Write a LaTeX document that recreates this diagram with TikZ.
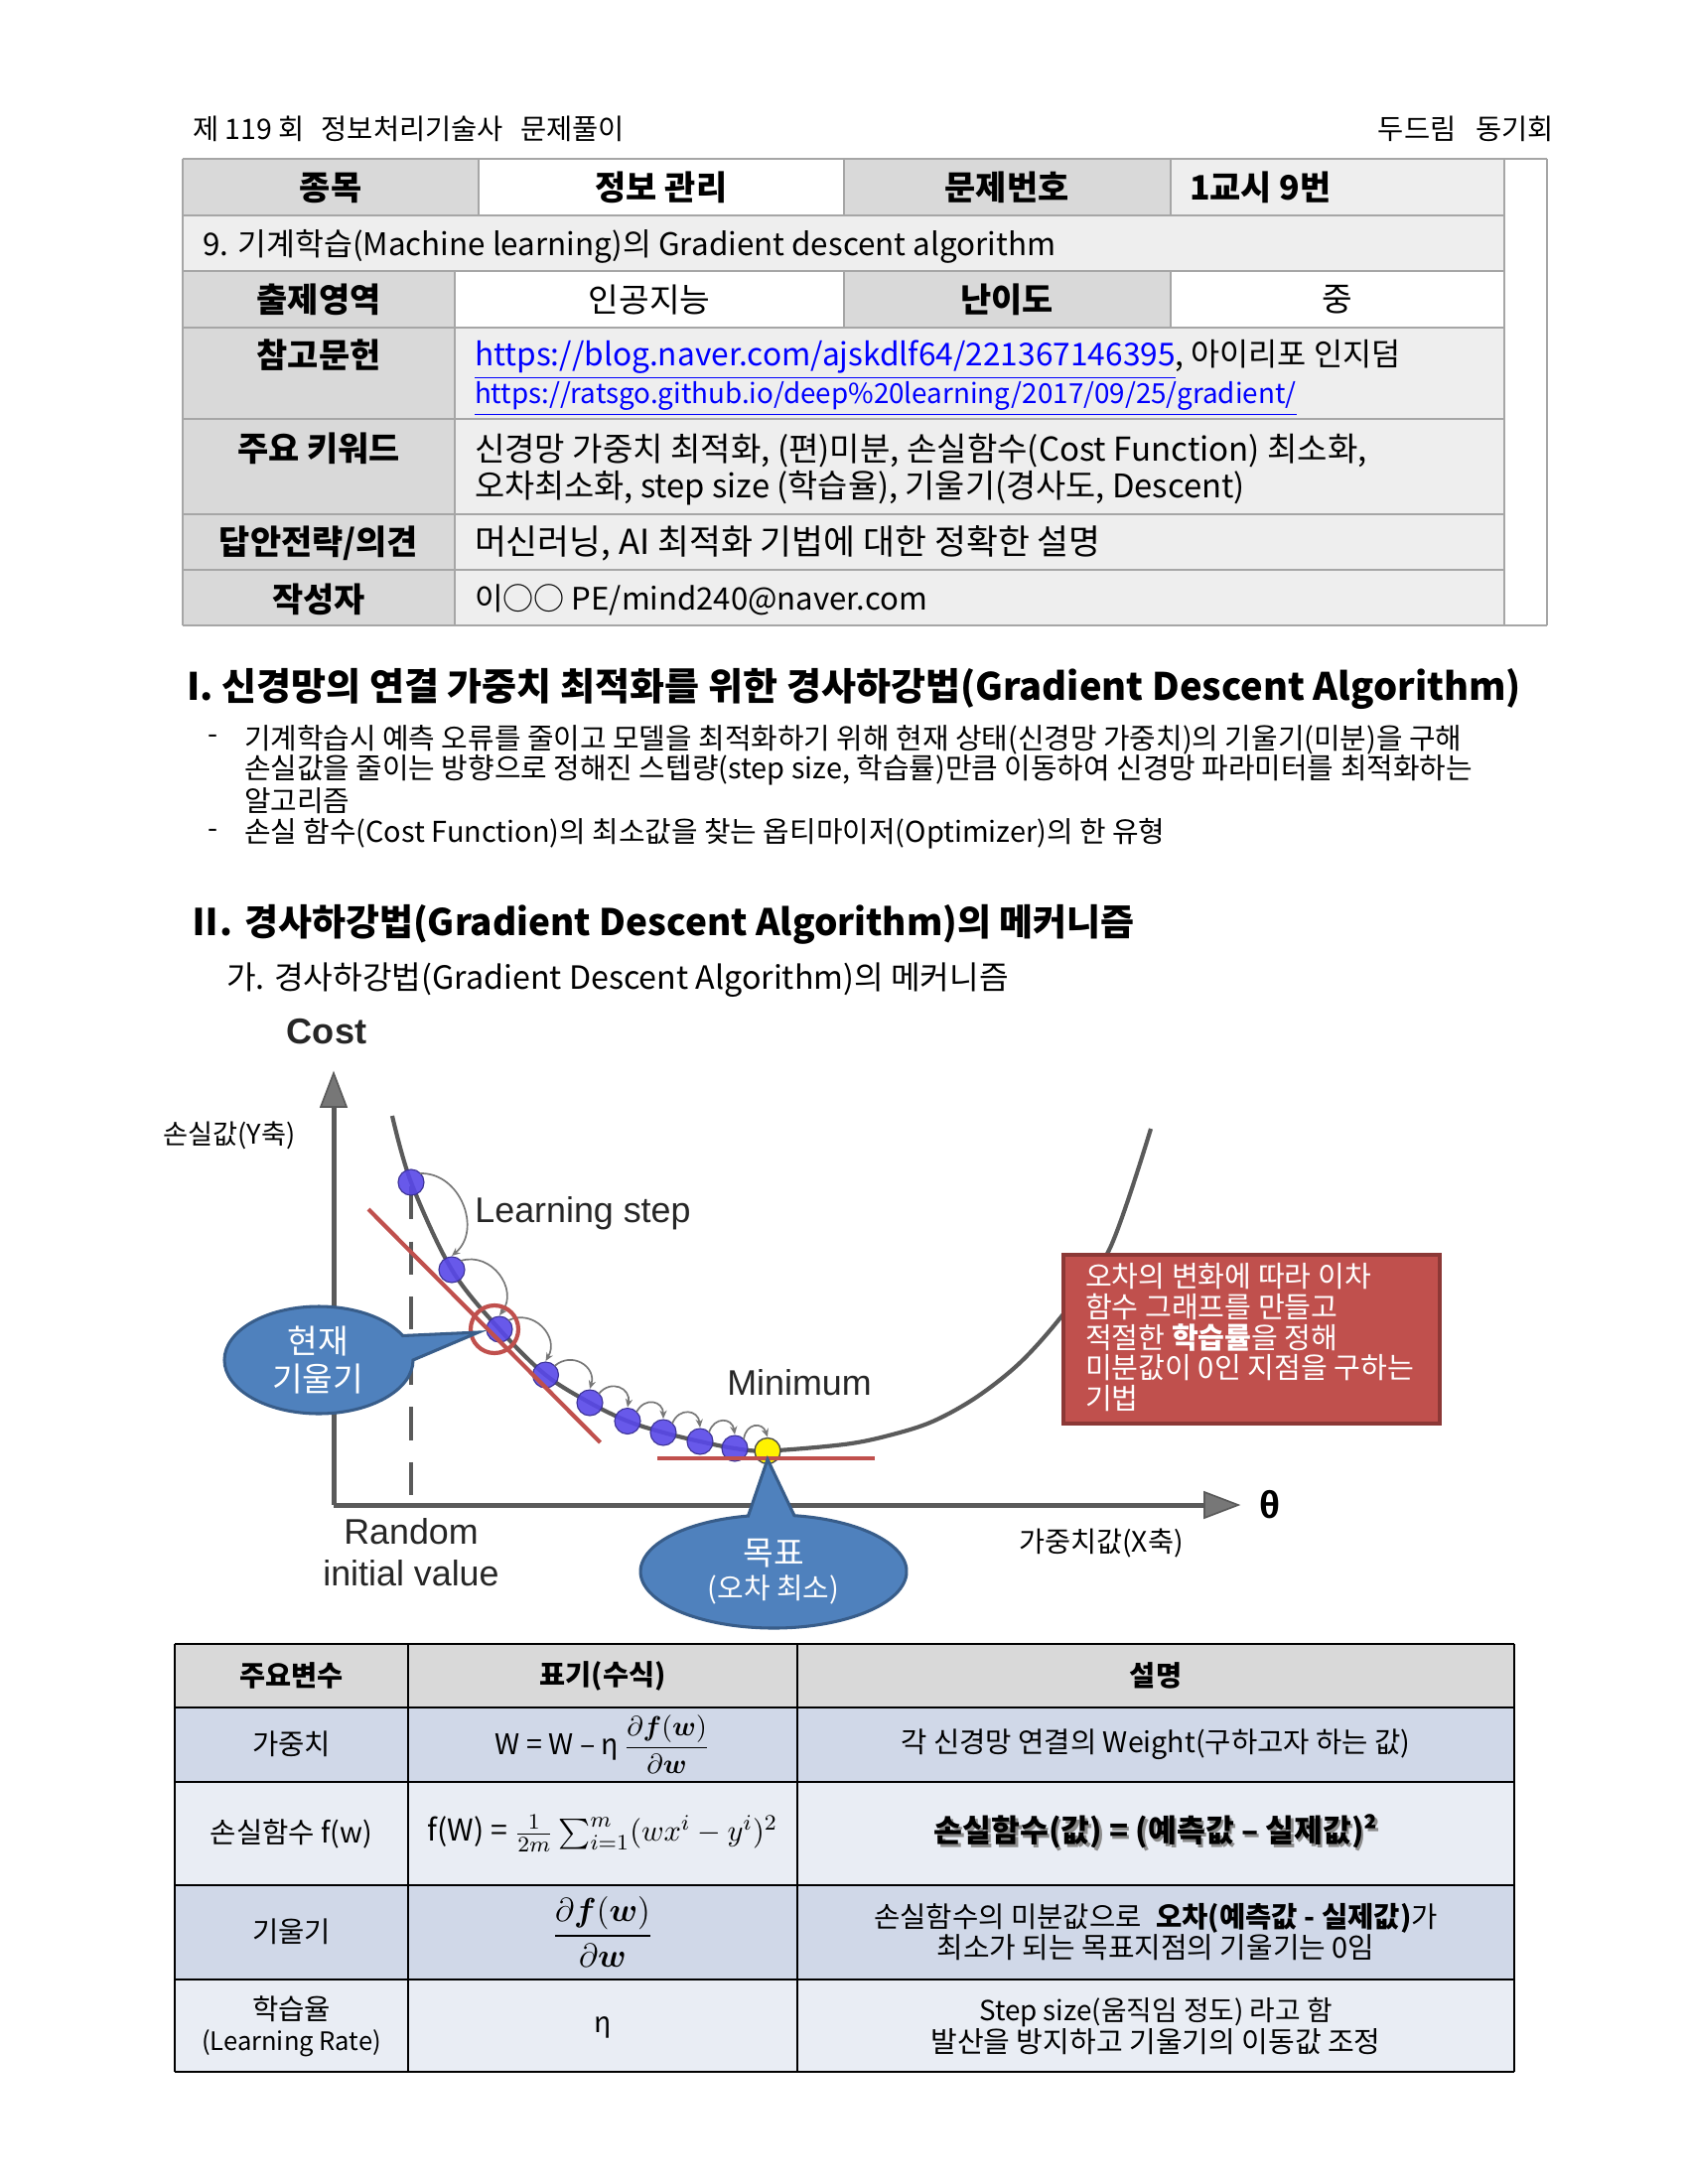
\documentclass[tikz,border=0pt]{standalone}
\usepackage{amsmath}
\usepackage{fontspec}
\setmainfont{Noto Sans CJK KR}
\newfontfamily\arialf{Liberation Sans}
\usetikzlibrary{arrows.meta,calc}
\definecolor{lblgray}{HTML}{D9D9D9}
\definecolor{cellgray}{HTML}{EEEEEE}
\definecolor{tline}{HTML}{A6A6A6}
\definecolor{linkblue}{HTML}{0000FF}
\definecolor{axisgray}{HTML}{5A5A5A}
\definecolor{arrowgray}{HTML}{777777}
\definecolor{calloutblue}{HTML}{4F81BD}
\definecolor{calloutedge}{HTML}{385D8A}
\definecolor{redbox}{HTML}{C0504D}
\definecolor{redboxedge}{HTML}{8C3836}
\definecolor{dotblue}{RGB}{88,72,232}
\definecolor{dotedge}{RGB}{60,50,150}
\definecolor{rowA}{HTML}{D0D8E8}
\definecolor{rowB}{HTML}{E9EDF4}
\definecolor{hdrgray}{HTML}{D9D9D9}
\newcommand{\fsz}[1]{\fontsize{#1}{#1}\selectfont}
\begin{document}
\begin{tikzpicture}[x=0.36pt,y=-0.36pt,
  every node/.style={inner sep=0pt,outer sep=0pt},
  tlabel/.style={font=\bfseries\fsz{12.2}},
  ttext/.style={font=\fsz{12}},
  hdrtext/.style={font=\fsz{10.25}},
  headsec/.style={font=\bfseries\fsz{13.7},anchor=west},
  body/.style={font=\fsz{10.4},anchor=west},
  subhead/.style={font=\fsz{11.6},anchor=west},
  arialtxt/.style={font=\arialf\fsz{12.9},text=black!85},
  axislbl/.style={font=\fsz{9.8}},
  callouttext/.style={font=\fsz{12},text=white},
  boxtext/.style={font=\fsz{10.5},text=white,anchor=west},
  bhdr/.style={font=\bfseries\fsz{10.2}},
  btext/.style={font=\fsz{10.3}},
  tableline/.style={draw=tline,line width=0.8pt},
  btline/.style={draw=black,line width=0.85pt},
  steparc/.style={draw=arrowgray,line width=0.6pt,-{Stealth[length=3pt,width=2.6pt]}},
  bluedot/.style={fill=dotblue,draw=dotedge,line width=0.4pt,fill opacity=0.9},
  redline/.style={draw=redbox,line width=1.5pt},
  callout/.style={fill=calloutblue,draw=calloutedge,line width=1.1pt}
]
\useasboundingbox (0,0) rectangle (1700,2200);
\fill[white] (0,0) rectangle (1700,2200);

% ---------- header ----------
\node[hdrtext,anchor=west] (hl) at (194,130) {제 119 회\hspace{0.6em}정보처리기술사\hspace{0.6em}문제풀이};
\node[hdrtext,anchor=east] (hr) at (1565,130) {두드림\hspace{0.7em}동기회};

% ---------- top table fills ----------
\fill[lblgray] (184,160) rectangle (482,217);
\fill[white] (482,160) rectangle (850,217);
\fill[lblgray] (850,160) rectangle (1179,217);
\fill[cellgray] (1179,160) rectangle (1515,217);
\fill[cellgray] (184,217) rectangle (1515,273);
\fill[lblgray] (184,273) rectangle (458,630);
\fill[white] (458,273) rectangle (850,330);
\fill[lblgray] (850,273) rectangle (1179,330);
\fill[white] (1179,273) rectangle (1515,330);
\fill[cellgray] (458,330) rectangle (1515,630);
% lines
\draw[tableline] (184,160) -- (1558,160);
\foreach \yy in {217,273,330,422,518,574} \draw[tableline] (184,\yy) -- (1515,\yy);
\draw[tableline] (184,630) -- (1558,630);
\draw[tableline] (184,160) -- (184,630);
\draw[tableline] (1515,160) -- (1515,630);
\draw[tableline] (1558,160) -- (1558,630);
\draw[tableline] (482,160) -- (482,217);
\draw[tableline] (850,160) -- (850,217);
\draw[tableline] (1179,160) -- (1179,217);
\draw[tableline] (458,273) -- (458,630);
\draw[tableline] (850,273) -- (850,330);
\draw[tableline] (1179,273) -- (1179,330);

% ---------- top table text ----------
\node[tlabel] (c11) at (333,189) {종목};
\node[tlabel] (c12) at (666,189) {정보 관리};
\node[tlabel,anchor=west] (c14) at (1198,189) {1교시 9번};
\node[tlabel] (c13) at (1014,189) {문제번호};
\node[ttext,font=\fsz{11.3},anchor=west] (c21) at (204,248) {9. 기계학습(Machine learning)의 Gradient descent algorithm};
\node[tlabel] (c31) at (321,302) {출제영역};
\node[ttext] (c32) at (654,302) {인공지능};
\node[tlabel] (c33) at (1014,302) {난이도};
\node[ttext] (c34) at (1347,302) {중};
\node[tlabel] (c41) at (321,358) {참고문헌};
\node[ttext,font=\fsz{11.4},anchor=west] (c42) at (478,362) {\textcolor{linkblue}{\underline{https://blog.naver.com/ajskdlf64/221367146395}}, 아이리포 인지덤};
\node[font=\fsz{10},anchor=west] (c43) at (478,402) {\textcolor{linkblue}{\underline{https://ratsgo.github.io/deep\%20learning/2017/09/25/gradient/}}};
\node[tlabel] (c51) at (321,452) {주요 키워드};
\node[ttext,font=\fsz{11.9},anchor=west] (c52) at (478,454) {신경망 가중치 최적화, (편)미분, 손실함수(Cost Function) 최소화,};
\node[ttext,font=\fsz{11.8},anchor=west] (c53) at (478,492) {오차최소화, step size (학습율), 기울기(경사도, Descent)};
\node[tlabel] (c61) at (321,547) {답안전략/의견};
\node[ttext,font=\fsz{12.5},anchor=west] (c62) at (478,547) {머신러닝, AI 최적화 기법에 대한 정확한 설명};
\node[tlabel] (c71) at (321,604) {작성자};
\node[ttext,font=\fsz{11.2},anchor=west] (c72) at (478,604) {이○○ PE/mind240@naver.com};

% ---------- section I ----------
\node[headsec] (s1) at (188,694) {I. 신경망의 연결 가중치 최적화를 위한 경사하강법(Gradient Descent Algorithm)};
\node[body,anchor=center] (d1) at (215,745) {-};
\node[body] (b1) at (246,745) {기계학습시 예측 오류를 줄이고 모델을 최적화하기 위해 현재 상태(신경망 가중치)의 기울기(미분)을 구해};
\node[body] (b2) at (246,776) {손실값을 줄이는 방향으로 정해진 스텝량(step size, 학습률)만큼 이동하여 신경망 파라미터를 최적화하는};
\node[body] (b3) at (246,807) {알고리즘};
\node[body,anchor=center] (d2) at (215,840) {-};
\node[body] (b4) at (246,840) {손실 함수(Cost Function)의 최소값을 찾는 옵티마이저(Optimizer)의 한 유형};

% ---------- section II ----------
\node[headsec,font=\bfseries\fsz{13.3}] (s2) at (188,931) {Ⅱ\kern-0.08em. 경사하강법(Gradient Descent Algorithm)의 메커니즘};
\node[subhead] (s2a) at (228,987) {가. 경사하강법(Gradient Descent Algorithm)의 메커니즘};

% ---------- diagram ----------
\node[font=\arialf\bfseries\fsz{13},text=black!85] (cost) at (329,1039) {Cost};
\node[axislbl] (ylbl) at (231,1144) {손실값(Y축)};
\node[axislbl,font=\fsz{10.2}] (xlbl) at (1109,1554) {가중치값(X축)};
\node[font=\arialf\bfseries\fsz{14}] (theta) at (1279,1516) {θ};
\node[arialtxt] (rand1) at (414,1543) {Random};
\node[arialtxt] (rand2) at (414,1585) {initial value};
\node[arialtxt] (lstep) at (587,1222) {Learning step};
\node[arialtxt] (minlbl) at (805,1393) {Minimum};

% axes
\coordinate (origin) at (336,1516);
\coordinate (ytip) at (336,1081);
\coordinate (xtip) at (1247,1516);
\draw[axisgray,line width=1.8pt] (origin) -- (336,1112);
\draw[axisgray,line width=1.8pt] (origin) -- (1216,1516);
\draw[fill=arrowgray,draw=axisgray,line width=0.6pt] (ytip) -- (323,1115) -- (349,1115) -- cycle;
\draw[fill=arrowgray,draw=axisgray,line width=0.6pt] (xtip) -- (1213,1503) -- (1213,1529) -- cycle;
% dashed guide
\coordinate (dtop) at (414,1195);
\coordinate (dbot) at (414,1516);
\draw[axisgray,line width=1.1pt,dash pattern=on 12pt off 8pt] (dtop) -- (dbot);

% curve
\draw[axisgray,line width=1.5pt] plot[smooth,tension=0.55] coordinates {(395,1124) (414,1191) (455,1279) (503,1339) (549.5,1385) (594,1413) (632,1431.5) (668,1443) (705,1452) (740,1459) (773,1461.5) (850,1455) (895,1446) (939,1432) (984,1407) (1029,1371) (1073,1321) (1118,1257) (1159,1137)};

% dots
\foreach \dx/\dy [count=\k] in {414/1191,455/1279,503/1339,549.5/1385,594/1413,632/1431.5,668/1443,705/1452,740/1459}
  \draw[bluedot] (\dx,\dy) circle[radius=13];

% learning step arcs
\foreach \xa/\ya/\xb/\yb in {414/1191/455/1279,455/1279/503/1339,503/1339/549.5/1385,549.5/1385/594/1413,594/1413/632/1431.5,632/1431.5/668/1443,668/1443/705/1452,705/1452/740/1459,740/1459/773/1461.5}{
  \pgfmathsetmacro{\sx}{\xa+9}
  \pgfmathsetmacro{\sy}{\ya-9}
  \pgfmathsetmacro{\ex}{\xb}
  \pgfmathsetmacro{\ey}{\yb-14}
  \pgfmathsetmacro{\ddx}{\ex-\sx}
  \pgfmathsetmacro{\ddy}{\ey-\sy}
  \pgfmathsetmacro{\len}{sqrt(\ddx*\ddx+\ddy*\ddy)}
  \pgfmathsetmacro{\fac}{0.34+8/\len}
  \pgfmathsetmacro{\ax}{\sx+0.15*\ddx+\fac*\ddy}
  \pgfmathsetmacro{\ay}{\sy+0.15*\ddy-\fac*\ddx}
  \pgfmathsetmacro{\bx}{\sx+0.85*\ddx+\fac*\ddy}
  \pgfmathsetmacro{\by}{\sy+0.85*\ddy-\fac*\ddx}
  \draw[steparc] (\sx,\sy) .. controls (\ax,\ay) and (\bx,\by) .. (\ex,\ey);
}

% yellow dot
\draw[fill=yellow,draw=black!70,line width=0.5pt] (773,1461.5) circle[radius=13];

% red tangent lines and circle
\coordinate (tan1) at (371,1218);
\coordinate (tan2) at (604.5,1453);
\draw[redline] (tan1) -- (tan2);
\coordinate (hz1) at (662,1469);
\coordinate (hz2) at (881,1469);
\draw[redline,line width=1.7pt] (hz1) -- (hz2);
\draw[redline] (498,1339) circle[radius=24];

% callout: current slope
\draw[callout] (416,1370) arc[start angle=0,end angle=333,x radius=95,y radius=54] -- (482,1342) -- cycle;
\node[callouttext] (cur1) at (320,1351) {현재};
\node[callouttext] (cur2) at (320,1389) {기울기};

% callout: target
\draw[callout] (800,1526.7) arc[start angle=279,end angle=619,x radius=134,y radius=57] -- (773,1470) -- cycle;
\node[callouttext] (tg1) at (779,1565) {목표};
\node[callouttext,font=\fsz{10.4}] (tg2) at (779,1601) {(오차 최소)};

% red box
\draw[fill=redbox,draw=redboxedge,line width=1.2pt] (1071,1264) rectangle (1450,1434);
\node[boxtext] (rb1) at (1093,1286) {오차의 변화에 따라 이차};
\node[boxtext] (rb2) at (1093,1316.5) {함수 그래프를 만들고};
\node[boxtext] (rb3) at (1093,1347) {적절한 \textbf{학습률}을 정해};
\node[boxtext] (rb4) at (1093,1378) {미분값이 0인 지점을 구하는};
\node[boxtext] (rb5) at (1093,1408.5) {기법};

% ---------- bottom table ----------
\fill[hdrgray] (176,1656) rectangle (1525,1720);
\fill[rowA] (176,1720) rectangle (1525,1795);
\fill[rowB] (176,1795) rectangle (1525,1899);
\fill[rowA] (176,1899) rectangle (1525,1994);
\fill[rowB] (176,1994) rectangle (1525,2087);
\foreach \yy in {1656,1720,1795,1899,1994,2087} \draw[btline] (176,\yy) -- (1525,\yy);
\foreach \xx in {176,411,803,1525} \draw[btline] (\xx,1656) -- (\xx,2087);

\node[bhdr] (h1) at (293.5,1688) {주요변수};
\node[bhdr] (h2) at (607,1688) {표기(수식)};
\node[bhdr] (h3) at (1164,1688) {설명};

\node[btext] (r11) at (293.5,1757) {가중치};
\node[btext] (r12) at (607,1757) {W = W – η\,$\dfrac{\partial\boldsymbol{f}(\boldsymbol{w})}{\partial\boldsymbol{w}}$};
\node[btext] (r13) at (1164,1757) {각 신경망 연결의 Weight(구하고자 하는 값)};

\node[btext] (r21) at (293.5,1847) {손실함수 f(w)};
\node[btext,font=\fsz{10.9}] (r22) at (607,1847) {f(W) = $\frac{1}{2m}\sum\nolimits_{i=1}^{m}(wx^{i}-y^{i})^{2}$};
\node[font=\bfseries\fsz{11.3},text=black!45] (r23s) at (1166.5,1847.5) {손실함수(값) = (예측값 – 실제값)²};
\node[font=\bfseries\fsz{11.3}] (r23) at (1164,1845) {손실함수(값) = (예측값 – 실제값)²};

\node[btext] (r31) at (293.5,1946) {기울기};
\node[font=\fsz{12.5}] (r32) at (607,1946) {$\dfrac{\partial\boldsymbol{f}(\boldsymbol{w})}{\partial\boldsymbol{w}}$};
\node[btext] (r33) at (1164,1932) {손실함수의 미분값으로\hspace{0.5em}\textbf{오차(예측값 - 실제값)}가};
\node[btext,font=\fsz{10.4}] (r34) at (1164,1962) {최소가 되는 목표지점의 기울기는 0임};

\node[btext] (r41) at (293.5,2024) {학습율};
\node[btext,font=\fsz{9.2}] (r42) at (293.5,2058) {(Learning Rate)};
\node[btext] (r43) at (607,2042) {η};
\node[btext,font=\fsz{10}] (r44) at (1164,2027) {Step size(움직임 정도) 라고 함};
\node[btext,font=\fsz{10.45}] (r45) at (1164,2057) {발산을 방지하고 기울기의 이동값 조정};
\end{tikzpicture}
\end{document}
